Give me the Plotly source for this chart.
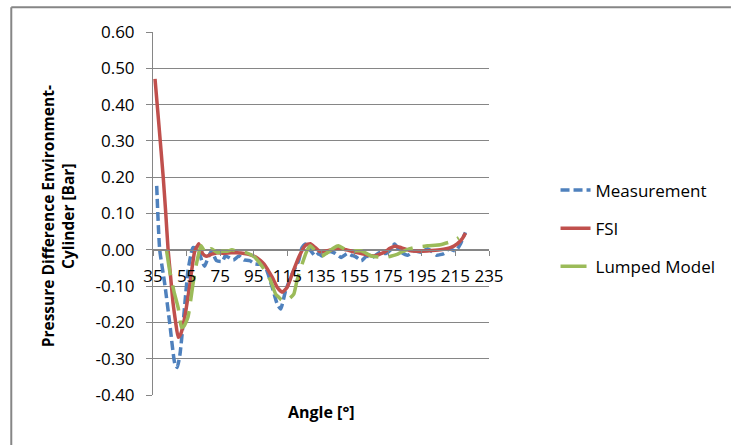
import plotly.graph_objects as go

# ---- data ----
meas_angle = [37.2, 39, 42, 45, 48, 49.4, 51, 52.9, 54.5, 55.8, 57.5, 58.8, 62, 64, 65.7, 67.5,
              69.8, 72.8, 76.3, 78, 80.5, 82.8, 86.3, 89, 92.5, 95.8, 99, 102, 106, 109, 111,
              113.9, 117.8, 121.7, 123.7, 125.7, 128.5, 131.6, 133.5, 135.5, 138, 140.4, 143.5,
              147, 150.6, 153, 155.3, 159, 162, 166, 170, 173.6, 176.5, 178.8, 182.7, 186.6,
              190.6, 194.5, 198.4, 201, 203.7, 208.3, 211.2, 215.2, 218, 219.5, 221]
meas_value = [0.176, 0.0, -0.094, -0.204, -0.314, -0.324, -0.29, -0.204, -0.12, -0.058, -0.015,
              0.006, 0.0, -0.03, -0.045, -0.025, -0.003, -0.03, -0.032, -0.017, -0.022, -0.028,
              -0.017, -0.028, -0.03, -0.039, -0.04, -0.049, -0.104, -0.15, -0.163, -0.113,
              -0.067, -0.03, 0.006, 0.016, 0.0, -0.017, -0.01, -0.017, -0.008, -0.005, -0.01,
              -0.021, -0.01, -0.015, -0.018, -0.03, -0.018, -0.02, -0.007, -0.01, 0.0, 0.016,
              -0.007, -0.015, -0.003, -0.007, 0.003, -0.005, -0.015, -0.01, 0.003, -0.003,
              0.016, 0.033, 0.048]

fsi_angle = [36.2, 38.5, 41.1, 42.6, 44, 45.5, 47, 48.5, 50, 51.5, 53.9, 56.8, 59.8, 62.3, 64.5,
             66.7, 70, 73.4, 77, 81.4, 85, 89.3, 93, 96.2, 99, 101, 104, 106, 109, 111.9, 114.8,
             117.8, 121.7, 125.7, 128.6, 131.6, 134.5, 139.4, 145.3, 150, 155, 159, 163, 167,
             170, 173, 176, 178.8, 182.7, 188.6, 193, 198.4, 206, 212, 216, 219, 221]
fsi_value = [0.471, 0.345, 0.199, 0.1, 0.0, -0.075, -0.149, -0.2, -0.241, -0.232, -0.186, -0.1,
             -0.005, 0.017, -0.01, -0.018, -0.012, -0.008, -0.01, -0.008, -0.008, -0.01, -0.014,
             -0.02, -0.03, -0.039, -0.06, -0.076, -0.104, -0.117, -0.104, -0.067, -0.021, 0.012,
             0.017, 0.006, -0.005, -0.002, 0.004, 0.0, -0.006, -0.01, -0.015, -0.017, -0.012,
             -0.006, 0.004, 0.01, 0.006, -0.003, -0.004, -0.003, 0.0, 0.006, 0.016, 0.03, 0.046]

lump_angle = [43, 45, 47.5, 50, 52, 53.5, 55.8, 58.8, 60.8, 62.8, 63.7, 65.7, 66.7, 69.6, 73.4,
              76, 79.2, 82, 85, 90.3, 95.2, 99.1, 102, 105, 108, 109.9, 111.5, 113.9, 116.5,
              118.8, 120.7, 123.7, 126.6, 128.6, 131.6, 135.5, 139.4, 142.5, 145.3, 151, 155,
              159, 165, 173, 177, 180.7, 183, 186, 190.6, 198.4, 206, 212, 216, 217]
lump_value = [0.0, -0.06, -0.115, -0.16, -0.214, -0.21, -0.186, -0.094, -0.04, 0.0, 0.011,
              -0.005, -0.01, 0.003, -0.008, -0.004, -0.004, 0.0, -0.004, -0.008, -0.019, -0.04,
              -0.06, -0.085, -0.122, -0.131, -0.138, -0.14, -0.133, -0.122, -0.085, -0.04,
              -0.003, 0.011, -0.003, -0.017, -0.006, 0.005, 0.011, -0.003, -0.003, -0.003,
              -0.017, -0.021, -0.017, -0.012, -0.006, 0.0, 0.006, 0.011, 0.014, 0.022, 0.03,
              0.033]

x_ticks = [35, 55, 75, 95, 115, 135, 155, 175, 195, 215, 235]
y_ticks = [-0.4, -0.3, -0.2, -0.1, 0.0, 0.1, 0.2, 0.3, 0.4, 0.5, 0.6]
y_tick_text = [f"{v:.2f}" for v in y_ticks]  # plain hyphen minus as in the reference

FONT = "Open Sans"
GRID = "#868686"

fig = go.Figure()
fig.add_trace(go.Scatter(x=meas_angle, y=meas_value, mode="lines", name="Measurement",
                         legendgroup="a",
                         line=dict(color="#4F81BD", width=3.5, dash="9px,4px",
                                   shape="spline", smoothing=0.5)))
fig.add_trace(go.Scatter(x=fsi_angle, y=fsi_value, mode="lines", name="FSI",
                         legendgroup="b",
                         line=dict(color="#C0504D", width=3.5, shape="spline", smoothing=0.5)))
fig.add_trace(go.Scatter(x=lump_angle, y=lump_value, mode="lines", name="Lumped Model",
                         legendgroup="c",
                         line=dict(color="#9BBB59", width=3.5, dash="26px,10px",
                                   shape="spline", smoothing=0.5)))

fig.update_layout(
    width=732, height=445,
    margin=dict(l=153, r=240, t=32, b=50),
    paper_bgcolor="white", plot_bgcolor="white",
    font=dict(family=FONT, size=17, color="#000000"),
    xaxis=dict(range=[35, 235], tickvals=x_ticks, ticktext=[str(v) for v in x_ticks],
               tickangle=0, showgrid=False, zeroline=False,
               showline=True, linecolor=GRID, linewidth=1,
               ticks="outside", ticklen=5, tickcolor=GRID,
               anchor="free", position=0.4, ticklabelstandoff=6,
               tickfont=dict(size=17)),
    yaxis=dict(range=[-0.4, 0.6], tickvals=y_ticks, ticktext=y_tick_text,
               showgrid=True, gridcolor=GRID, gridwidth=1, zeroline=False,
               showline=True, linecolor=GRID, linewidth=1,
               ticks="outside", ticklen=6, tickcolor=GRID, ticklabelstandoff=8,
               tickfont=dict(size=17)),
    legend=dict(x=1.198, y=0.613, xanchor="left", yanchor="top",
                traceorder="grouped", tracegroupgap=13,
                font=dict(size=17), bgcolor="rgba(0,0,0,0)"),
    showlegend=True,
)

fig.add_annotation(text="<b>Pressure Difference Environment-<br>Cylinder [Bar]</b>",
                   xref="paper", yref="paper", x=-0.282, y=0.493, textangle=-90,
                   showarrow=False, xanchor="center", yanchor="middle",
                   font=dict(size=15.5), align="center")
fig.add_annotation(text="<b>Angle [°]</b>", xref="paper", yref="paper", x=0.5, y=-0.047,
                   showarrow=False, xanchor="center", yanchor="middle", font=dict(size=16))

# chart border (top and left visible in the crop)
fig.add_shape(type="line", xref="paper", yref="paper", x0=-0.4218, x1=1.72, y0=1.068, y1=1.068,
              line=dict(color=GRID, width=2))
fig.add_shape(type="line", xref="paper", yref="paper", x0=-0.4218, x1=-0.4218, y0=1.068, y1=-0.2,
              line=dict(color=GRID, width=2))

fig.write_html("out.html", config={"displayModeBar": False},
               post_script="document.body.style.margin='0';document.body.style.padding='0';")
